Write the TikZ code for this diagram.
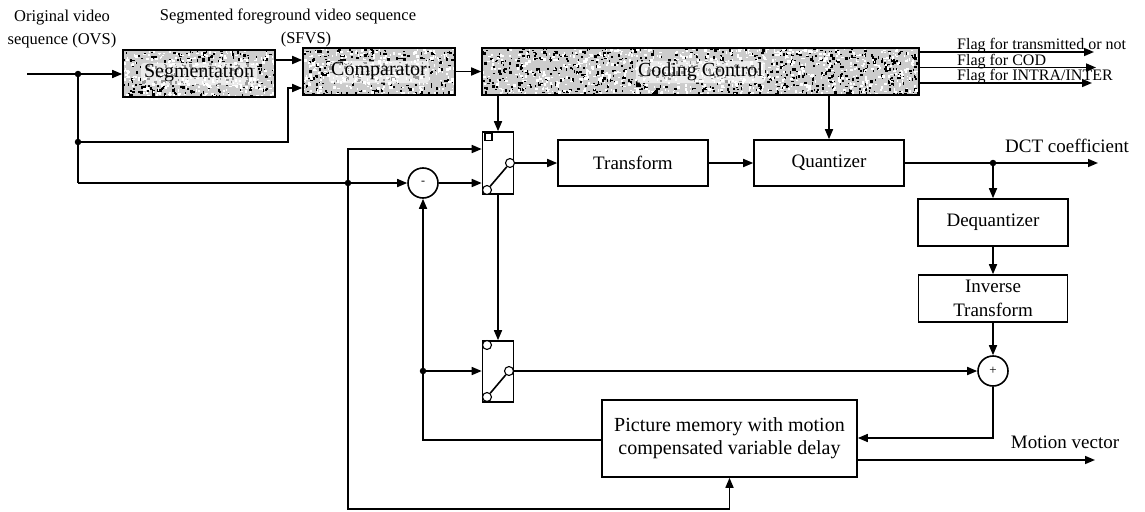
\documentclass[tikz,border=0pt]{standalone}
\usepackage{fontspec}
\setmainfont{Liberation Serif}
\usetikzlibrary{arrows.meta}
\pgfdeclarelayer{background}
\pgfsetlayers{background,main}
\newcommand{\specks}[5]{%
  \foreach \k in {1,...,#5}{%
    \pgfmathsetmacro{\spx}{#1+rnd*(#3-#1)}%
    \pgfmathsetmacro{\spy}{#2+rnd*(#4-#2)}%
    \pgfmathsetmacro{\spw}{0.8+2.4*rnd}%
    \pgfmathsetmacro{\sph}{0.8+2.4*rnd}%
    \fill (\spx,\spy) rectangle ++(\spw,\sph);
  }}
\begin{document}
\begin{tikzpicture}[x=1pt,y=-1pt,
  ln/.style={line width=1.6pt},
  ar/.style={line width=1.6pt,-{Triangle[length=10pt,width=8pt]}},
  box/.style={draw,line width=1.6pt,inner sep=0pt,align=center,font=\fontsize{19}{24}\selectfont},
  gbox/.style={box,font=\fontsize{20}{24}\selectfont},
  swbox/.style={draw,line width=1.6pt,inner sep=0pt,minimum width=31pt},
  sumc/.style={circle,draw,line width=1.6pt,minimum size=30pt,inner sep=0pt},
  contact/.style={circle,draw,fill=white,line width=1.1pt,minimum size=9pt,inner sep=0pt},
  dot/.style={circle,fill,inner sep=0pt,minimum size=6.5pt},
  lbl/.style={inner sep=0pt,align=center,font=\fontsize{16.5}{23}\selectfont},
  flag/.style={inner sep=0pt,font=\fontsize{16}{16}\selectfont},
  olbl/.style={inner sep=0pt,font=\fontsize{19}{22}\selectfont},
  halo/.style={fill=white,fill opacity=0.6,rounded corners=3pt}]
\useasboundingbox (0,0) rectangle (1145,511);

% ---------- blocks ----------
\node[gbox,minimum width=152pt,minimum height=47pt] (seg) at (199,73.5) {Segmentation};
\node[gbox,minimum width=152pt,minimum height=47pt] (comp) at (379,71.5) {Comparator};
\node[gbox,minimum width=437pt,minimum height=47pt] (cc) at (700.5,71.5) {Coding Control};
\node[box,minimum width=150pt,minimum height=46pt] (tr) at (633,163) {Transform};
\node[box,minimum width=150pt,minimum height=46pt] (qu) at (829,163) {Quantizer};
\node[box,minimum width=150pt,minimum height=47pt] (dq) at (993,222.5) {Dequantizer};
\node[box,minimum width=149pt,minimum height=47pt] (it) at (993,298.5) {Inverse\\Transform};
\node[box,minimum width=255pt,minimum height=77pt,font=\fontsize{20}{23}\selectfont] (mem) at (729.5,438.5) {Picture memory with motion\\compensated variable delay};
\node[sumc] (sub) at (423,183) {\fontsize{12}{12}\selectfont -};
\node[sumc] (add) at (993,371) {\fontsize{13}{13}\selectfont +};

% switches
\node[swbox,minimum height=62pt] (sw1) at (498,163) {};
\node[draw,line width=1.1pt,minimum size=7pt,inner sep=0pt] (s1t) at (488.5,137) {};
\node[contact] (s1r) at (510,163) {};
\node[contact] (s1b) at (487,190) {};
\draw[ln] (s1b) -- (s1r);
\node[swbox,minimum height=61pt] (sw2) at (498,371.5) {};
\node[contact] (s2t) at (487,345) {};
\node[contact] (s2r) at (509,371) {};
\node[contact] (s2b) at (487,397) {};
\draw[ln] (s2b) -- (s2r);

% ---------- speckled fill ----------
\begin{pgfonlayer}{background}
  \pgfmathsetseed{7}
  \fill[gray!40] (seg.north west) rectangle (seg.south east);
  \fill[gray!40] (comp.north west) rectangle (comp.south east);
  \fill[gray!40] (cc.north west) rectangle (cc.south east);
  \begin{scope}
    \clip (seg.north west) rectangle (seg.south east);
    \begin{scope}[black]\specks{123}{50}{275}{97}{280}\end{scope}
    \begin{scope}[white]\specks{123}{50}{275}{97}{300}\end{scope}
  \end{scope}
  \begin{scope}
    \clip (comp.north west) rectangle (comp.south east);
    \begin{scope}[black]\specks{303}{48}{455}{95}{280}\end{scope}
    \begin{scope}[white]\specks{303}{48}{455}{95}{300}\end{scope}
  \end{scope}
  \begin{scope}
    \clip (cc.north west) rectangle (cc.south east);
    \begin{scope}[black]\specks{482}{48}{919}{95}{800}\end{scope}
    \begin{scope}[white]\specks{482}{48}{919}{95}{820}\end{scope}
  \end{scope}
  \fill[halo] (141,63) rectangle (257,85);
  \fill[halo] (329,61) rectangle (429,83);
  \fill[halo] (636,61) rectangle (765,83);
\end{pgfonlayer}

% ---------- coordinates ----------
\coordinate (in) at (27,74);
\coordinate (j1) at (78,74);
\coordinate (j2) at (78,142);
\coordinate (j3) at (78,183);
\coordinate (b1) at (288,142);
\coordinate (b2) at (288,88);
\coordinate (j4) at (348,183);
\coordinate (b3) at (348,149);
\coordinate (b4) at (348,509);
\coordinate (b5) at (729.5,509);
\coordinate (j5) at (993,163);
\coordinate (dct) at (1098,163);
\coordinate (j6) at (423,371);
\coordinate (b6) at (423,440);
\coordinate (b7) at (993,438);
\coordinate (mv) at (1095,460);
\coordinate (f1) at (1094,52);
\coordinate (f2) at (1096,67.5);
\coordinate (f3) at (1092,83);

% ---------- connectors ----------
\draw[ar] (in) -- (seg.west |- in);
\draw[ln] (j1) -- (j3);
\draw[ar] (j3) -- (sub.west);
\draw[ar] (j2) -- (b1) -- (b2) -- (comp.west |- b2);
\draw[ar] (seg.east |- 0,60) -- (comp.west |- 0,60);
\draw[ar] (comp.east) -- (cc.west);
\draw[ar] (j4) -- (b3) -- (sw1.west |- b3);
\draw[ar] (sub.east) -- (sw1.west |- sub);
\draw[ar] (j4) -- (b4) -- (b5) -- (mem.south);
\draw[ar] (cc.south -| sw1.north) -- (sw1.north);
\draw[ar] (sw1.south) -- (sw2.north);
\draw[ar] (cc.south -| qu.north) -- (qu.north);
\draw[ar] (s1r) -- (tr.west |- s1r);
\draw[ar] (tr.east) -- (qu.west);
\draw[ar] (qu.east) -- (dct);
\draw[ar] (j5) -- (dq.north);
\draw[ar] (dq.south) -- (it.north);
\draw[ar] (it.south) -- (add.north);
\draw[ar] (s2r) -- (add.west);
\draw[ar] (add.south) -- (b7) -- (mem.east |- b7);
\draw[ar] (mem.west |- b6) -- (b6) -- (sub.south);
\draw[ar] (j6) -- (sw2.west |- j6);
\draw[ar] (mem.east |- mv) -- (mv);
\draw[ar] (cc.east |- f1) -- (f1);
\draw[ar] (cc.east |- f2) -- (f2);
\draw[ar] (cc.east |- f3) -- (f3);

% junction dots
\foreach \p in {j1,j2,j4,j5,j6} \node[dot] at (\p) {};

% ---------- labels ----------
\node[lbl] (ovs) at (62,29) {Original video\\sequence (OVS)};
\node[lbl] (sfvs) at (288,28) {Segmented foreground video sequence\\\hspace*{36pt}(SFVS)};
\node[olbl] (dctl) at (1067,146) {DCT coefficient};
\node[olbl] (mvl) at (1065,442) {Motion vector};
\node[flag,anchor=base west] (fl1) at (957,50) {Flag for transmitted or not};
\node[flag,anchor=base west] (fl2) at (957,65.5) {Flag for COD};
\node[flag,anchor=base west] (fl3) at (957,81) {Flag for INTRA/INTER};
\end{tikzpicture}
\end{document}
